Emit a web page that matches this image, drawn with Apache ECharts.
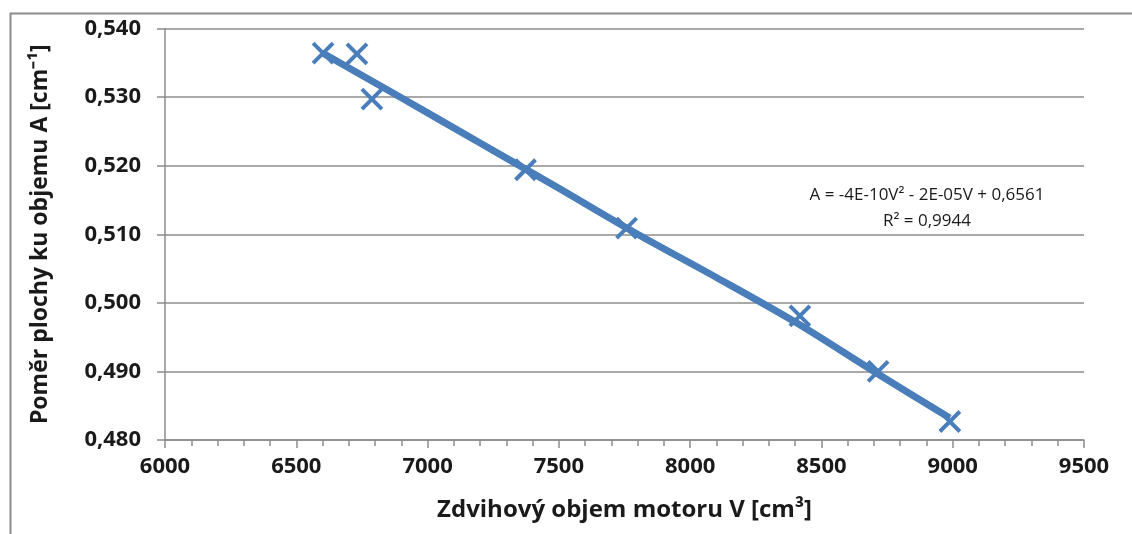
<!DOCTYPE html>
<html>
<head>
<meta charset="utf-8">
<script src="https://cdn.jsdelivr.net/npm/echarts@6/dist/echarts.min.js"></script>
<style>
  html, body { margin: 0; padding: 0; background: #fff; }
  #chart { width: 1132px; height: 534px; }
</style>
</head>
<body>
<div id="chart"></div>
<script>
// merane body
var volumeV = [6602, 6731, 6788, 7373, 7758, 8418, 8716, 8989]
var ratioA = [0.5364, 0.5363, 0.5297, 0.5194, 0.5109, 0.4981, 0.4900, 0.4827]

// spojnica trendu, odcitana z obrazku
var trendV = [6602, 6900, 7200, 7500, 7800, 8100, 8400, 8700, 8989]
var trendA = [0.5364, 0.5299, 0.5233, 0.5167, 0.5100, 0.5037, 0.4972, 0.4900, 0.4832]

var xTicks = [6000, 6500, 7000, 7500, 8000, 8500, 9000, 9500]
var yTicks = [0.480, 0.490, 0.500, 0.510, 0.520, 0.530, 0.540]

var eqLines = ['A = -4E-10V² - 2E-05V + 0,6561', 'R² = 0,9944']

var blue = '#4a7ebb'
var gray = '#8c8c8c'
var font = 'Open Sans'

var points = volumeV.map(function(v, i) { return [v, ratioA[i]] })
var trend = trendV.map(function(v, i) { return [v, trendA[i]] })

var chart = echarts.init(document.getElementById('chart'))

var option = {
  backgroundColor: '#fff',
  animation: false,
  grid: { left: 165, right: 48, top: 28.5, bottom: 94 },
  xAxis: {
    type: 'value',
    min: xTicks[0],
    max: xTicks[xTicks.length - 1],
    interval: 500,
    name: 'Zdvihový objem motoru V [cm³]',
    nameLocation: 'middle',
    nameGap: 58,
    nameTextStyle: { fontFamily: font, fontSize: 24, fontWeight: 'bold', color: '#1a1a1a' },
    axisLine: { show: true, lineStyle: { color: gray, width: 1.5 } },
    axisTick: { show: true, length: 8, lineStyle: { color: gray, width: 1.5 } },
    minorTick: { show: true, splitNumber: 5, length: 6, lineStyle: { color: gray, width: 1.5 } },
    splitLine: { show: false },
    axisLabel: {
      margin: 16,
      fontFamily: font, fontSize: 22, fontWeight: 'bold', color: '#1a1a1a',
      formatter: function(val) { return String(val) }
    }
  },
  yAxis: {
    type: 'value',
    min: yTicks[0],
    max: yTicks[yTicks.length - 1],
    interval: 0.01,
    name: 'Poměr plochy ku objemu A [cm⁻¹]',
    nameLocation: 'middle',
    nameGap: 113,
    nameTextStyle: { fontFamily: font, fontSize: 23, fontWeight: 'bold', color: '#1a1a1a' },
    axisLine: { show: true, lineStyle: { color: gray, width: 1.5 } },
    axisTick: { show: true, length: 8, lineStyle: { color: gray, width: 1.5 } },
    splitLine: { show: true, lineStyle: { color: gray, width: 1.5 } },
    axisLabel: {
      margin: 24,
      fontFamily: font, fontSize: 22, fontWeight: 'bold', color: '#1a1a1a',
      formatter: function(val) { return val.toFixed(3).replace('.', ',') }
    }
  },
  graphic: [
    {
      type: 'rect',
      left: 8, top: 11,
      shape: { width: 1300, height: 700 },
      style: { fill: 'none', stroke: gray, lineWidth: 2 },
      silent: true
    },
    {
      type: 'text',
      x: 927, y: 195,
      style: {
        text: eqLines[0],
        fontFamily: font, fontSize: 17,
        fill: '#1a1a1a', align: 'center', verticalAlign: 'middle'
      }
    },
    {
      type: 'text',
      x: 927, y: 221,
      style: {
        text: eqLines[1],
        fontFamily: font, fontSize: 17,
        fill: '#1a1a1a', align: 'center', verticalAlign: 'middle'
      }
    }
  ],
  series: [
    {
      type: 'scatter',
      data: points,
      symbol: 'path://M0,0L10,10M10,0L0,10',
      symbolSize: 20,
      itemStyle: { color: 'none', borderColor: blue, borderWidth: 4, opacity: 1 },
      z: 2
    },
    {
      type: 'line',
      data: trend,
      smooth: 0.3,
      showSymbol: false,
      lineStyle: { color: blue, width: 7 },
      z: 3
    }
  ]
}

chart.setOption(option)
</script>
</body>
</html>
